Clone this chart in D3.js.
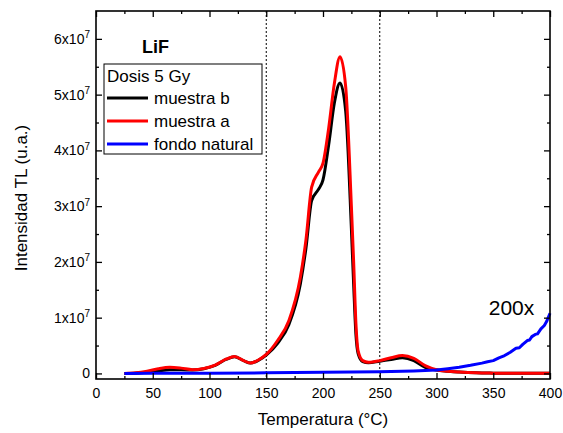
<!DOCTYPE html>
<html>
<head>
<meta charset="utf-8">
<script src="https://cdn.jsdelivr.net/npm/d3@7"></script>
<style>
  body { margin: 0; background: #fff; }
  svg { font-family: "Liberation Sans", Arial, sans-serif; }
</style>
</head>
<body>
<svg id="chart" width="563" height="433"></svg>
<script>
// temperatures (°C) for the two samples
const tempAB = [25, 35, 45, 55, 65, 75, 85, 95, 105, 115, 122, 130, 136, 143, 150, 160, 170, 180, 185, 190,
  196, 200, 205, 210, 215, 220, 225, 227, 229, 231, 235, 240, 250, 260, 270, 280, 290, 300, 310, 320,
  335, 350, 375, 400];
// muestra a (red), in units of 1e6
const muestraA = [0, 0.1, 0.4, 0.85, 1.1, 0.95, 0.68, 0.9, 1.5, 2.6, 3.05, 2.3, 1.85, 2.4, 3.4, 5.9, 9.5, 17.2, 24, 33.4,
  36.1, 37.7, 44, 52, 56.8, 51.4, 30, 20, 9, 4, 2.3, 2.0, 2.3, 2.8, 3.2, 2.7, 1.4, 0.66, 0.4, 0.25,
  0.1, 0.05, 0.02, 0.02];
// muestra b (black), in units of 1e6
const muestraB = [0, 0.05, 0.2, 0.45, 0.65, 0.65, 0.6, 0.85, 1.45, 2.55, 3.0, 2.3, 1.85, 2.35, 3.3, 5.4, 8.8, 16, 22.5, 31,
  33, 34.7, 41, 48.5, 52.1, 47, 26, 16, 7, 3.5, 2.1, 1.9, 2.2, 2.5, 2.8, 2.3, 1.1, 0.6, 0.4, 0.25,
  0.1, 0.05, 0.02, 0.02];
// fondo natural x200 (blue)
const tempFondo = [25, 50, 100, 150, 200, 250, 280, 300, 310, 320, 330, 340, 345, 350, 355, 360, 365, 370, 373,
  376, 380, 382, 384, 387, 389, 392, 395, 397, 400];
const fondo = [0, 0.02, 0.05, 0.1, 0.2, 0.3, 0.45, 0.62, 0.85, 1.1, 1.45, 1.85, 2.1, 2.3, 2.8, 3.2, 3.8, 4.5, 4.6,
  5.2, 5.9, 6.0, 6.6, 7.0, 7.1, 8.0, 8.6, 9.3, 10.8];

const xTicks = [0, 50, 100, 150, 200, 250, 300, 350, 400];
const yTicks = [0, 1e7, 2e7, 3e7, 4e7, 5e7, 6e7];
const dashedAt = [150, 250];

const series = [
  { name: 'muestra b', color: '#000000', t: tempAB, v: muestraB },
  { name: 'muestra a', color: '#ff0000', t: tempAB, v: muestraA },
  { name: 'fondo natural', color: '#0000ff', t: tempFondo, v: fondo, linear: true },
];

const svg = d3.select('#chart');
const margin = { top: 11, right: 13, bottom: 54, left: 96 };
const width = 563 - margin.left - margin.right;
const height = 433 - margin.top - margin.bottom;

const x = d3.scaleLinear().domain([0, 400]).range([0, width]);
const y = d3.scaleLinear().domain([-1e6, 6.5e7]).range([height, 0]);

const g = svg.append('g')
  .attr('transform', `translate(${margin.left},${margin.top})`);

// dashed guide lines
g.selectAll('.guide')
  .data(dashedAt)
  .enter().append('line')
  .attr('x1', d => x(d)).attr('x2', d => x(d))
  .attr('y1', 0).attr('y2', height)
  .attr('stroke', '#000')
  .attr('stroke-width', 1)
  .attr('stroke-dasharray', '2,2');

// curves
series.forEach((s) => {
  const pts = s.t.map((t, i) => [t, s.v[i] * 1e6]);
  const line = d3.line()
    .x(d => x(d[0]))
    .y(d => y(d[1]))
    .curve(s.linear ? d3.curveLinear : d3.curveMonotoneX);
  g.append('path')
    .datum(pts)
    .attr('fill', 'none')
    .attr('stroke', s.color)
    .attr('stroke-width', 3)
    .attr('stroke-linejoin', 'round')
    .attr('d', line);
});

// axes with inward ticks
const minorX = d3.range(25, 400, 50);
const minorY = d3.range(0.5e7, 6.5e7, 1e7);

function styleAxis(sel) {
  sel.selectAll('.domain').remove();
  sel.selectAll('line').attr('stroke', '#000').attr('stroke-width', 1.3);
}

g.append('g')
  .attr('transform', `translate(0,${height})`)
  .call(d3.axisBottom(x).tickValues(xTicks).tickSizeInner(-6).tickPadding(9))
  .call(styleAxis)
  .selectAll('text')
  .attr('font-size', 14)
  .attr('font-family', '"Liberation Sans", Arial, sans-serif')
  .attr('fill', '#000');
g.append('g')
  .attr('transform', `translate(0,${height})`)
  .call(d3.axisBottom(x).tickValues(minorX).tickSizeInner(-3).tickFormat(''))
  .call(styleAxis);
g.append('g')
  .call(d3.axisTop(x).tickValues(xTicks).tickSizeInner(-6).tickFormat(''))
  .call(styleAxis);
g.append('g')
  .call(d3.axisTop(x).tickValues(minorX).tickSizeInner(-3).tickFormat(''))
  .call(styleAxis);

const yAxis = g.append('g')
  .call(d3.axisLeft(y).tickValues(yTicks).tickSizeInner(-6).tickPadding(6).tickFormat(''))
  .call(styleAxis);
yAxis.selectAll('.tick text')
  .attr('font-size', 14)
  .attr('font-family', '"Liberation Sans", Arial, sans-serif')
  .attr('fill', '#000')
  .each(function addLabel(d) {
    const t = d3.select(this);
    if (d === 0) {
      t.text('0');
      return;
    }
    t.append('tspan').text(`${d / 1e7}x10`);
    t.append('tspan').attr('font-size', 10).attr('dy', '-0.55em').text('7');
  });
g.append('g')
  .call(d3.axisLeft(y).tickValues(minorY).tickSizeInner(-3).tickFormat(''))
  .call(styleAxis);
g.append('g')
  .attr('transform', `translate(${width},0)`)
  .call(d3.axisRight(y).tickValues(yTicks).tickSizeInner(-6).tickFormat(''))
  .call(styleAxis);
g.append('g')
  .attr('transform', `translate(${width},0)`)
  .call(d3.axisRight(y).tickValues(minorY).tickSizeInner(-3).tickFormat(''))
  .call(styleAxis);

// frame
g.append('rect')
  .attr('width', width)
  .attr('height', height)
  .attr('fill', 'none')
  .attr('stroke', '#000')
  .attr('stroke-width', 1.6);

// axis titles
svg.append('text')
  .attr('text-anchor', 'middle')
  .attr('transform', `translate(${margin.left + width / 2},425)`)
  .attr('font-size', 17)
  .text('Temperatura (°C)');
svg.append('text')
  .attr('text-anchor', 'middle')
  .attr('transform', `translate(27,${margin.top + height / 2 + 3})rotate(-90)`)
  .attr('font-size', 17)
  .text('Intensidad TL (u.a.)');

// annotations
g.append('text')
  .attr('x', x(40.5)).attr('y', 42)
  .attr('font-size', 18)
  .attr('font-weight', 'bold')
  .text('LiF');
g.append('text')
  .attr('x', x(346)).attr('y', 304)
  .attr('font-size', 21)
  .text('200x');

// legend
const legend = g.append('g').attr('transform', 'translate(8,53)');
legend.append('rect')
  .attr('width', 158).attr('height', 90)
  .attr('fill', '#fff')
  .attr('stroke', '#000')
  .attr('stroke-width', 1);
legend.append('text')
  .attr('x', 3).attr('y', 18)
  .attr('font-size', 17)
  .text('Dosis 5 Gy');
series.forEach((s, i) => {
  const yy = 34 + i * 23;
  legend.append('line')
    .attr('x1', 3).attr('x2', 44)
    .attr('y1', yy).attr('y2', yy)
    .attr('stroke', s.color)
    .attr('stroke-width', 3);
  legend.append('text')
    .attr('x', 50).attr('y', yy + 6)
    .attr('font-size', 17)
    .text(s.name);
});
</script>
</body>
</html>
